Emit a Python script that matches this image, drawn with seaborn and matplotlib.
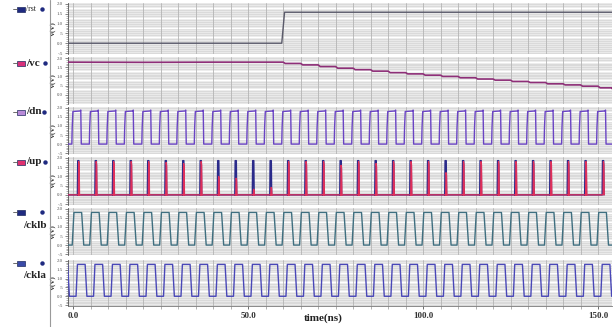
import numpy as np
import pandas as pd
import matplotlib
matplotlib.use("Agg")
import matplotlib.pyplot as plt
from matplotlib.patches import Rectangle
from matplotlib.lines import Line2D
import seaborn as sns

# ---------------- data ----------------
signal_names = ["/rst", "/vc", "/dn", "/up", "/cklb", "/ckla"]
x_ticks = [0.0, 50.0, 100.0, 150.0]
x_tick_labels = ["0.0", "50.0", "100.0", "150.0"]
y_ticks = [-0.5, 0.0, 0.5, 1.0, 1.5, 2.0]
y_tick_labels = ["-.5", "0.0", ".5", "1.0", "1.5", "2.0"]
vc_y_ticks = [0.0, 0.5, 1.0, 1.5, 2.0]
vc_y_tick_labels = ["0.0", ".5", "1.0", "1.5", "2.0"]

# /rst breakpoints
rst_t = [-1.5, 59.6, 60.4, 154.0]
rst_v = [0.0, 0.0, 1.58, 1.58]

# /vc: initial level, then staircase (step time, level after step)
vc_start_t = [-1.5, 20.0, 40.0, 59.5]
vc_start_v = [1.78, 1.77, 1.78, 1.78]
vc_step_t = [60, 65, 70, 75, 80, 85, 90, 95, 100, 105, 110, 115, 120,
             125, 130, 135, 140, 145, 150]
vc_step_v = [1.71, 1.63, 1.54, 1.45, 1.37, 1.29, 1.21, 1.14, 1.07, 1.00,
             0.93, 0.86, 0.80, 0.73, 0.67, 0.60, 0.54, 0.47, 0.38]
vc_end = [154.0, 0.34]

# clock cycle start times (ns)
cycle_t = [-5, 0, 5, 10, 15, 20, 25, 30, 35, 40, 45, 50, 55, 60, 65, 70, 75,
           80, 85, 90, 95, 100, 105, 110, 115, 120, 125, 130, 135, 140, 145,
           150]

# one-cycle waveform shapes: offset within a cycle (ns) and voltage (V)
dn_dt = [-0.4, -0.3, -0.1, 2.0, 2.15, 2.3, 4.6]
dn_v = [0.0, 0.9, 1.80, 1.83, 1.88, 0.0, 0.0]

up_dt = [-3.7, 1.2, 1.3, 1.6, 1.7]
up_v = [0.0, 0.0, 1.85, 1.85, 0.0]
up_red_dt = [-3.5, 1.45, 1.55, 1.7, 1.8]
up_red_peak = [1.8, 1.8, 1.8, 1.8, 1.8, 1.8, 1.75, 1.7, 1.8, 1.0, 0.9, 0.3,
               0.4, 1.8, 1.8, 1.8, 1.6, 1.8, 1.7, 1.8, 1.8, 1.8, 1.2, 1.8,
               1.8, 1.8, 1.8, 1.8, 1.8, 1.8, 1.8, 1.8]

cklb_dt = [-0.3, 0.2, 2.4, 3.0, 4.7]
cklb_v = [0.0, 1.8, 1.8, 0.0, 0.0]

ckla_dt = [0.8, 1.2, 3.4, 3.9, 5.8]
ckla_v = [0.0, 1.8, 1.8, 0.0, 0.0]

# ---------------- build traces ----------------
def tile(dt, v, starts):
    t_all, v_all = [], []
    for s in starts:
        t_all += [s + d for d in dt]
        v_all += list(v)
    return pd.DataFrame({"t": t_all, "v": v_all})

rst_df = pd.DataFrame({"t": rst_t, "v": rst_v})

vc_t, vc_v = list(vc_start_t), list(vc_start_v)
prev = vc_start_v[-1]
for st, sv in zip(vc_step_t, vc_step_v):
    vc_t += [st, st + 0.6, st + 4.9]
    vc_v += [prev, sv, sv]
    prev = sv
vc_t.append(vc_end[0]); vc_v.append(vc_end[1])
vc_df = pd.DataFrame({"t": vc_t, "v": vc_v})

dn_df = tile(dn_dt, dn_v, cycle_t)
up_df = tile(up_dt, up_v, cycle_t)
red_t, red_v = [], []
for s, pk in zip(cycle_t, up_red_peak):
    red_t += [s + d for d in up_red_dt]
    red_v += [0.0, 0.0, pk, pk * 0.9, 0.0]
red_df = pd.DataFrame({"t": red_t, "v": red_v})
cklb_df = tile(cklb_dt, cklb_v, cycle_t)
ckla_df = tile(ckla_dt, ckla_v, cycle_t)

# ---------------- figure ----------------
sns.set_theme(style="white")
plt.rcParams["font.family"] = ["Liberation Serif", "DejaVu Serif"]

W, H = 616, 327
fig = plt.figure(figsize=(W / 100, H / 100), dpi=100)
fig.patch.set_facecolor("white")

def px_axes(left, top, right, bottom):
    return fig.add_axes([left / W, 1 - bottom / H, (right - left) / W, (bottom - top) / H])

def fx(x): return x / W
def fy(y): return 1 - y / H

xl, xr = 68, 612
panels = [
    (3, 54, (-0.55, 2.05)),
    (57, 104, (-0.06, 2.06)),
    (107, 154, (-0.55, 2.05)),
    (157, 205, (-0.55, 2.05)),
    (208, 255, (-0.55, 2.05)),
    (260, 306, (-0.55, 2.05)),
]

traces = [
    [(rst_df, "#5a5a6a", 1.0)],
    [(vc_df, "#8e2f78", 1.2)],
    [(dn_df, "#6a44c4", 1.0)],
    [(up_df, "#2a2a8a", 1.1), (red_df, "#e0305a", 0.9)],
    [(cklb_df, "#3f6f80", 1.0)],
    [(ckla_df, "#4a48b8", 1.0)],
]

for i, ((top, bot, ylim), tr) in enumerate(zip(panels, traces)):
    ax = px_axes(xl, top, xr, bot)
    ax.set_facecolor("#e9e9e9")
    ax.set_xlim(-1.5, 154)
    ax.set_ylim(*ylim)
    for yy in np.arange(-0.5, 2.05, 0.1):
        ax.axhline(yy, color="#d4d4d4", lw=0.5, zorder=0)
    for yy in [0.3, 0.8, 1.3, 1.8]:
        ax.axhline(yy, color="white", lw=1.0, zorder=0)
    for xx in np.arange(0, 155, 5):
        ax.axvline(xx, color="#b4b4b4", lw=0.6, zorder=0)
    for df, col, lw in tr:
        sns.lineplot(data=df, x="t", y="v", ax=ax, color=col, lw=lw,
                     estimator=None, sort=False, legend=False, zorder=3)
    if i == 1:
        ax.set_yticks(vc_y_ticks)
        ax.set_yticklabels(vc_y_tick_labels)
    else:
        ax.set_yticks(y_ticks)
        ax.set_yticklabels(y_tick_labels)
    ax.set_yticks(np.arange(-0.5, 2.05, 0.1), minor=True)
    ax.tick_params(axis="y", which="major", labelsize=3.5, length=2.5, width=0.5,
                   pad=1, colors="#555555", left=True)
    ax.tick_params(axis="y", which="minor", length=1.2, width=0.4, colors="#777777", left=True)
    ax.set_ylabel("V(V)", fontsize=5, fontweight="bold", labelpad=1, color="#333333")
    ax.set_xlabel("")
    for sp in ax.spines.values():
        sp.set_visible(False)
    ax.spines["left"].set_visible(True)
    ax.spines["left"].set_color("#555555")
    ax.spines["left"].set_linewidth(0.6)
    if i < 5:
        ax.set_xticks([])
    else:
        ax.set_xticks(x_ticks)
        ax.set_xticklabels(x_tick_labels)
        ax.set_xticks(np.arange(0, 155, 5), minor=True)
        ax.spines["bottom"].set_visible(True)
        ax.spines["bottom"].set_color("#777777")
        ax.spines["bottom"].set_linewidth(0.6)
        ax.tick_params(axis="x", which="major", labelsize=6.5, length=2.5, width=0.5,
                       pad=1.5, colors="#333333", bottom=True)
        ax.tick_params(axis="x", which="minor", length=1.8, width=0.4,
                       colors="#777777", bottom=True)
        for lab in ax.get_xticklabels():
            lab.set_fontweight("bold")
        ax.set_xlabel("")

fig.text(fx(323), fy(318), "time(ns)", fontsize=8, fontweight="bold",
         ha="center", va="center", color="#222222")

# left separator line
fig.add_artist(Line2D([fx(50), fx(50)], [0, 1], color="#9a9a9a", lw=0.8))

legend_rows = [
    ("#1f2a80", 9, 42, None),
    ("#d8307a", 63, 45, None),
    ("#b98ad8", 112, 44, None),
    ("#e0306f", 162, 45, None),
    ("#1f2a80", 212, 42, 225),
    ("#3a4aa8", 263, 42, 275),
]
label_sizes = [5.5, 8, 8, 8, 8, 8]
for (col, yrow, xdot, ylab), name, fs in zip(legend_rows, signal_names, label_sizes):
    fig.add_artist(Line2D([fx(13), fx(17)], [fy(yrow), fy(yrow)], color="#555555", lw=0.6))
    fig.add_artist(Rectangle((fx(17), fy(yrow + 2.5)), 8 / W, 5 / H, facecolor=col,
                             edgecolor="#1f2a60", lw=0.5))
    fig.add_artist(Line2D([fx(xdot)], [fy(yrow)], marker="o", markersize=3.2,
                          markerfacecolor="#1f2a80", markeredgecolor="none", lw=0))
    if ylab is None:
        fig.text(fx(26), fy(yrow), name, fontsize=fs,
                 fontweight="normal" if name == "/rst" else "bold",
                 va="center", ha="left", color="#222222")
    else:
        fig.text(fx(23), fy(ylab), name, fontsize=fs, fontweight="bold",
                 va="center", ha="left", color="#222222")

fig.savefig("out.png", dpi=100, facecolor="white")
